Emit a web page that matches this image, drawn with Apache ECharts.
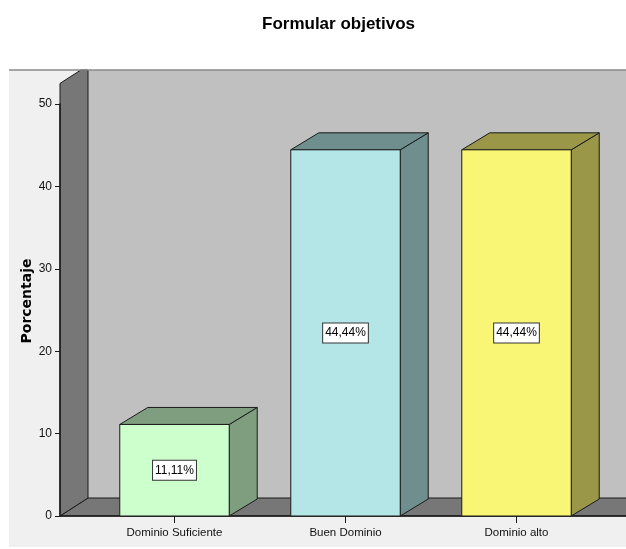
<!DOCTYPE html>
<html>
<head>
<meta charset="utf-8">
<script src="https://cdn.jsdelivr.net/npm/echarts@6/dist/echarts.min.js"></script>
<style>
  html, body { margin: 0; padding: 0; background: #ffffff; }
  #chart { width: 626px; height: 549px; }
</style>
</head>
<body>
<div id="chart"></div>
<script>
// Chart data
const chartTitle = 'Formular objetivos';
const axisTitle = 'Porcentaje';
const categories = ['Dominio Suficiente', 'Buen Dominio', 'Dominio alto'];
const percentages = [11.11, 44.44, 44.44];
const yTicks = [0, 10, 20, 30, 40, 50];

// Face / side colours of each 3D bar
const faceColors = ['#ccffcc', '#b4e6e8', '#faf675'];
const sideColors = ['#7f9e7f', '#6f8f8f', '#9a9748'];

const DEPTH_X = 28;
const DEPTH_Y = -17;
const WALL_TOP = 52.5;   // value reached by the front edge of the side wall
const AXIS_SHIFT = 29;   // y axis sits in front of the category band
const SANS = '"Liberation Sans", Arial, sans-serif';

function fmtPct(v) {
  return v.toFixed(2).replace('.', ',') + '%';
}

// Frame, back wall, side wall and floor of the 3D box
function renderWalls(params, api) {
  const cs = params.coordSys;
  const right = api.getWidth();
  const frameTop = 70;
  const fx = cs.x - AXIS_SHIFT;
  const bx = fx + DEPTH_X;
  const y0 = api.coord([0, 0])[1];
  const yb = y0 + DEPTH_Y - 1;
  const yCap = api.coord([0, WALL_TOP])[1];
  const slope = (bx - fx) / (y0 - yb);
  const edge = { stroke: '#1a1a1a', lineWidth: 1 };
  return {
    type: 'group',
    children: [
      { type: 'rect', shape: { x: 9, y: frameTop, width: right - 9, height: api.getHeight() - frameTop - 2 },
        style: { fill: '#f0f0f0' } },
      { type: 'rect', shape: { x: bx, y: frameTop, width: right - bx, height: yb - frameTop },
        style: { fill: '#c0c0c0' } },
      { type: 'polygon', shape: { points: [[fx, y0], [bx, yb], [right + 2, yb], [right + 2, y0]] },
        style: Object.assign({ fill: '#777777' }, edge) },
      { type: 'polygon', shape: { points: [[fx, y0], [fx, yCap], [fx + (yCap - frameTop) * slope, frameTop], [bx, frameTop], [bx, yb]] },
        style: Object.assign({ fill: '#777777' }, edge) },
      { type: 'line', shape: { x1: 9, y1: frameTop, x2: right, y2: frameTop },
        style: { stroke: '#8a8a8a', lineWidth: 1.5 } },
      { type: 'line', shape: { x1: fx, y1: y0, x2: right, y2: y0 },
        style: { stroke: '#1a1a1a', lineWidth: 1.5 } }
    ]
  };
}

// A 3D bar with its value label
function renderBar(params, api) {
  const idx = api.value(0);
  const val = api.value(1);
  const base = api.coord([idx, 0]);
  const top = api.coord([idx, val]);
  const w = api.size([1, 0])[0] * 0.64;
  const x0 = base[0] - w / 2, x1 = base[0] + w / 2;
  const y0 = base[1], y1 = top[1];
  const edge = { stroke: '#1a1a1a', lineWidth: 1 };
  const i = params.dataIndex;
  return {
    type: 'group',
    children: [
      { type: 'polygon', shape: { points: [[x1, y0], [x1, y1], [x1 + DEPTH_X, y1 + DEPTH_Y], [x1 + DEPTH_X, y0 + DEPTH_Y]] },
        style: Object.assign({ fill: sideColors[i] }, edge) },
      { type: 'polygon', shape: { points: [[x0, y1], [x0 + DEPTH_X, y1 + DEPTH_Y], [x1 + DEPTH_X, y1 + DEPTH_Y], [x1, y1]] },
        style: Object.assign({ fill: sideColors[i] }, edge) },
      { type: 'rect', shape: { x: x0, y: y1, width: w, height: y0 - y1 },
        style: Object.assign({ fill: faceColors[i] }, edge) },
      { type: 'text', x: base[0], y: (y0 + y1) / 2,
        style: {
          text: fmtPct(val), fill: '#000', font: '12px ' + SANS,
          align: 'center', verticalAlign: 'middle',
          backgroundColor: '#ffffff', borderColor: '#333333', borderWidth: 1, padding: [4, 2, 3, 2]
        } }
    ]
  };
}

const chart = echarts.init(document.getElementById('chart'), null, { renderer: 'canvas' });
chart.setOption({
  backgroundColor: '#ffffff',
  animation: false,
  title: {
    text: chartTitle, left: 257, top: 11,
    textStyle: { fontFamily: SANS, fontSize: 17, fontWeight: 'bold', color: '#000' }
  },
  graphic: [{
    type: 'text', x: 27, y: 301, rotation: Math.PI / 2, z: 20,
    style: {
      text: axisTitle, fill: '#000', font: 'bold 14px "DejaVu Sans", Verdana, sans-serif',
      align: 'center', verticalAlign: 'middle'
    }
  }],
  grid: { left: 89, right: 24, top: 104, bottom: 33 },
  xAxis: {
    type: 'category', data: categories, z: 10,
    axisLine: { show: false },
    axisTick: { show: true, alignWithLabel: true, length: 7, lineStyle: { color: '#1a1a1a' } },
    axisLabel: { margin: 11, color: '#111', fontSize: 11.5, fontFamily: SANS }
  },
  yAxis: {
    type: 'value', min: yTicks[0], max: yTicks[yTicks.length - 1], interval: yTicks[1] - yTicks[0],
    offset: AXIS_SHIFT, z: 10,
    axisLine: { show: true, lineStyle: { color: '#1a1a1a', width: 1.5 } },
    axisTick: { show: true, length: 5, lineStyle: { color: '#1a1a1a' } },
    axisLabel: { margin: 8, color: '#111', fontSize: 12, fontFamily: SANS },
    splitLine: { show: false }
  },
  series: [
    { type: 'custom', z: 1, silent: true, clip: false, renderItem: renderWalls, data: [[0, 0]] },
    { type: 'custom', z: 3, clip: false, renderItem: renderBar,
      data: percentages.map((v, i) => [i, v]) }
  ]
});
</script>
</body>
</html>
